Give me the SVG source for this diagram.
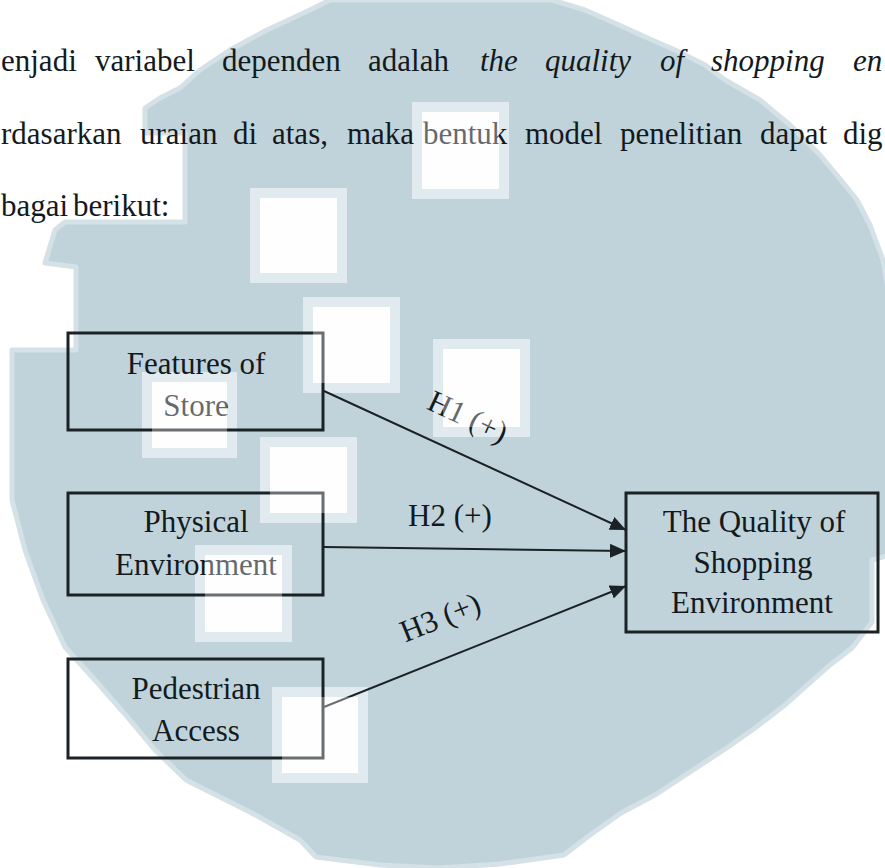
<svg xmlns="http://www.w3.org/2000/svg" width="885" height="868" viewBox="0 0 885 868">
  <defs>
    <style>
      .t { font-family: "Liberation Serif", "Times New Roman", serif; font-size: 31px; fill: #131a1e; }
      .i { font-style: italic; }
      .lbl { text-anchor: middle; }
      .box { fill: none; stroke: #1a2226; stroke-width: 3; }
      .edge { fill: none; stroke: #1a2226; stroke-width: 2; marker-end: url(#arr); }
      .band { fill: #e1eaee; }
      .sq { fill: #fdfefe; }
      .fade { fill: #ffffff; fill-opacity: 0.35; }
    </style>
    <marker id="arr" markerUnits="userSpaceOnUse" markerWidth="17" markerHeight="14" refX="16" refY="7" orient="auto">
      <path d="M0,0 L16,7 L0,14 z" fill="#1a2226"/>
    </marker>
  </defs>

  <rect x="0" y="0" width="885" height="868" fill="#ffffff"/>

  <g id="watermark">
    <polygon fill="#c1d3da" stroke="#d4e1e6" stroke-width="5" stroke-linejoin="round"
      points="330,0 552,0 585,10 619,25 652,40 675,50 705,65 725,80 760,100 790,125 820,155 845,185 857,200 870,225 883,260 890,300 890,555 872,560 872,622 852,648 830,665 813,680 785,705 755,728 728,747 690,772 655,795 621,813 590,835 564,855 500,864 440,868 380,865 316,857 300,840 250,812 186,780 155,750 124,713 95,680 65,647 43,600 25,550 12,500 12,350 76,350 76,267 45,263 55,230 65,222 185,222 185,133 145,133 145,108 160,98 180,88 200,70 230,50 267,30 310,10"/>
    <g id="squares">
      <rect class="band" x="412" y="102" width="97" height="97"/>
      <rect class="sq" x="422" y="112" width="77" height="77"/>
      <rect class="band" x="250" y="188" width="97" height="95"/>
      <rect class="sq" x="260" y="198" width="77" height="75"/>
      <rect class="band" x="303" y="297" width="97" height="96"/>
      <rect class="sq" x="313" y="307" width="77" height="76"/>
      <rect class="band" x="433" y="339" width="97" height="98"/>
      <rect class="sq" x="443" y="349" width="77" height="78"/>
      <rect class="band" x="260" y="437" width="97" height="86"/>
      <rect class="sq" x="270" y="447" width="77" height="66"/>
      <rect class="band" x="142" y="372" width="95" height="86"/>
      <rect class="sq" x="152" y="382" width="75" height="66"/>
      <rect class="band" x="195" y="545" width="97" height="97"/>
      <rect class="sq" x="205" y="555" width="77" height="77"/>
      <rect class="band" x="272" y="687" width="96" height="96"/>
      <rect class="sq" x="282" y="697" width="76" height="76"/>
    </g>
  </g>

  <g id="body-text" class="t">
    <text y="71"><tspan x="1">enjadi</tspan><tspan x="95">variabel</tspan><tspan x="222">dependen</tspan><tspan x="368">adalah</tspan><tspan class="i" x="480">the</tspan><tspan class="i" x="545">quality</tspan><tspan class="i" x="660">of</tspan><tspan class="i" x="711">shopping</tspan><tspan class="i" x="853">en</tspan></text>
    <text y="143.5"><tspan x="1">rdasarkan</tspan><tspan x="140">uraian</tspan><tspan x="233">di</tspan><tspan x="272">atas,</tspan><tspan x="347">maka</tspan><tspan x="423">bentuk</tspan><tspan x="525">model</tspan><tspan x="620">penelitian</tspan><tspan x="760">dapat</tspan><tspan x="843">dig</tspan></text>
    <text y="216"><tspan x="1">bagai</tspan><tspan x="73">berikut:</tspan></text>
  </g>

  <g id="n-features">
    <rect class="box" x="68" y="333" width="255" height="97"/>
    <text class="t lbl" x="196" y="374">Features of</text>
    <text class="t lbl" x="196" y="416">Store</text>
  </g>

  <g id="n-physical">
    <rect class="box" x="68" y="493" width="255" height="102"/>
    <text class="t lbl" x="196" y="532">Physical</text>
    <text class="t lbl" x="196" y="575">Environment</text>
  </g>

  <g id="n-pedestrian">
    <rect class="box" x="68" y="659" width="255" height="99"/>
    <text class="t lbl" x="196" y="699">Pedestrian</text>
    <text class="t lbl" x="196" y="741">Access</text>
  </g>

  <g id="n-quality">
    <rect class="box" x="626" y="493" width="252" height="139"/>
    <text class="t lbl" x="754" y="532">The Quality of</text>
    <text class="t lbl" x="753" y="573">Shopping</text>
    <text class="t lbl" x="752" y="613">Environment</text>
  </g>

  <g id="connectors">
    <line class="edge" x1="324" y1="391" x2="626" y2="530"/>
    <line class="edge" x1="324" y1="547" x2="626" y2="551"/>
    <line class="edge" x1="324" y1="707" x2="626" y2="586"/>
    <g class="t lbl">
      <text transform="translate(463.5,426) rotate(24.8)">H1 (+)</text>
      <text x="450" y="526">H2 (+)</text>
      <text transform="translate(444,627) rotate(-21.9)">H3 (+)</text>
    </g>
  </g>

  <g id="watermark-overlay">
    <rect class="fade" x="422" y="112" width="77" height="77"/>
    <rect class="fade" x="260" y="198" width="77" height="75"/>
    <rect class="fade" x="313" y="307" width="77" height="76"/>
    <rect class="fade" x="443" y="349" width="77" height="78"/>
    <rect class="fade" x="270" y="447" width="77" height="66"/>
    <rect class="fade" x="152" y="382" width="75" height="66"/>
    <rect class="fade" x="205" y="555" width="77" height="77"/>
    <rect class="fade" x="282" y="697" width="76" height="76"/>
  </g>
</svg>
